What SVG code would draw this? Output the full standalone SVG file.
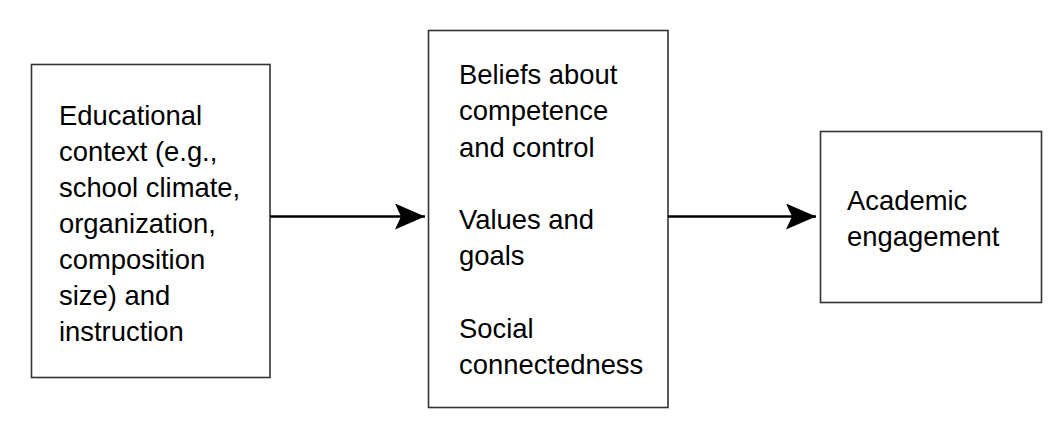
<svg xmlns="http://www.w3.org/2000/svg" width="1062" height="428" viewBox="0 0 1062 428">
<style>
.box{fill:#ffffff;stroke:#333333;stroke-width:1.6}
.lbl{font-family:"Liberation Sans",Arial,sans-serif;font-size:27.4px;fill:#000000}
.edge{stroke:#000000;stroke-width:2.6;fill:none}
</style>
<defs>
<marker id="arr" markerUnits="userSpaceOnUse" markerWidth="32" markerHeight="28" refX="30" refY="13" orient="auto">
<path d="M30,13 L0,0 L6,13 L0,26 Z" fill="#000000"/>
</marker>
</defs>
<rect width="1062" height="428" fill="#ffffff"/>
<g id="node-context">
<rect class="box" x="31.5" y="64.5" width="238.5" height="313"/>
<text class="lbl" x="59" y="125">
<tspan x="59" y="125">Educational</tspan>
<tspan x="59" y="161">context (e.g.,</tspan>
<tspan x="59" y="197">school climate,</tspan>
<tspan x="59" y="233">organization,</tspan>
<tspan x="59" y="269">composition</tspan>
<tspan x="59" y="305">size) and</tspan>
<tspan x="59" y="341">instruction</tspan>
</text>
</g>
<g id="node-beliefs">
<rect class="box" x="428.5" y="30.5" width="239.5" height="377"/>
<text class="lbl" x="459" y="84">
<tspan x="459" y="84">Beliefs about</tspan>
<tspan x="459" y="120.3">competence</tspan>
<tspan x="459" y="156.5">and control</tspan>
<tspan x="459" y="229">Values and</tspan>
<tspan x="459" y="265.3">goals</tspan>
<tspan x="459" y="337.8">Social</tspan>
<tspan x="459" y="374">connectedness</tspan>
</text>
</g>
<g id="node-engagement">
<rect class="box" x="820.5" y="131.5" width="221" height="171"/>
<text class="lbl" x="847" y="210">
<tspan x="847" y="210">Academic</tspan>
<tspan x="847" y="245.5">engagement</tspan>
</text>
</g>
<g id="connectors">
<line class="edge" x1="270" y1="216.5" x2="425" y2="216.5" marker-end="url(#arr)"/>
<line class="edge" x1="668" y1="216.5" x2="816" y2="216.5" marker-end="url(#arr)"/>
</g>
</svg>
